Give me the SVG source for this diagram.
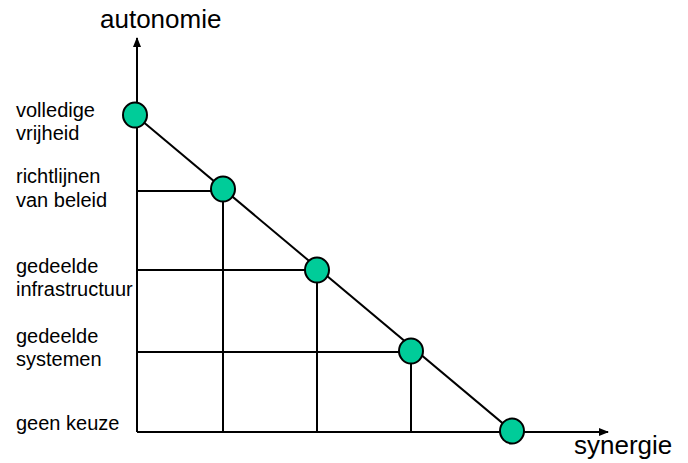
<svg xmlns="http://www.w3.org/2000/svg" width="688" height="463" viewBox="0 0 688 463">
<style>
.ln{stroke:#000;stroke-width:2;fill:none}
.nd{fill:#00CC99;stroke:#000;stroke-width:2}
.lb{font-family:"Liberation Sans",Arial,sans-serif;font-size:20px;fill:#000}
.ax{font-family:"Liberation Sans",Arial,sans-serif;font-size:26px;fill:#000}
</style>
<defs>
<marker id="ar" markerWidth="10" markerHeight="10" refX="9" refY="5" orient="auto" markerUnits="userSpaceOnUse">
<path d="M0,1 L10,5 L0,9 Z" fill="#000"/>
</marker>
</defs>
<rect width="688" height="463" fill="#fff"/>
<g id="connectors">
<line class="ln" x1="137" y1="432" x2="137" y2="38" marker-end="url(#ar)"/>
<line class="ln" x1="137" y1="432" x2="608" y2="432" marker-end="url(#ar)"/>
<line class="ln" x1="135" y1="115" x2="512" y2="431"/>
<line class="ln" x1="137" y1="191" x2="223" y2="191"/>
<line class="ln" x1="223" y1="189" x2="223" y2="432"/>
<line class="ln" x1="137" y1="270" x2="317" y2="270"/>
<line class="ln" x1="317" y1="270" x2="317" y2="432"/>
<line class="ln" x1="137" y1="352" x2="411" y2="352"/>
<line class="ln" x1="411" y1="351" x2="411" y2="432"/>
</g>
<g id="node1"><ellipse class="nd" cx="135" cy="115" rx="12" ry="12.5"/></g>
<g id="node2"><ellipse class="nd" cx="223" cy="189" rx="12" ry="12.5"/></g>
<g id="node3"><ellipse class="nd" cx="317" cy="270" rx="12" ry="12.5"/></g>
<g id="node4"><ellipse class="nd" cx="411" cy="351" rx="12" ry="12.5"/></g>
<g id="node5"><ellipse class="nd" cx="512" cy="431" rx="12" ry="12.5"/></g>
<g id="labels">
<text class="ax" x="100" y="28">autonomie</text>
<text class="ax" x="574" y="454">synergie</text>
<text class="lb" x="16" y="117">volledige</text>
<text class="lb" x="16" y="140">vrijheid</text>
<text class="lb" x="16" y="183">richtlijnen</text>
<text class="lb" x="16" y="207">van beleid</text>
<text class="lb" x="16" y="273">gedeelde</text>
<text class="lb" x="16" y="296">infrastructuur</text>
<text class="lb" x="16" y="343">gedeelde</text>
<text class="lb" x="16" y="366">systemen</text>
<text class="lb" x="16" y="430">geen keuze</text>
</g>
</svg>
